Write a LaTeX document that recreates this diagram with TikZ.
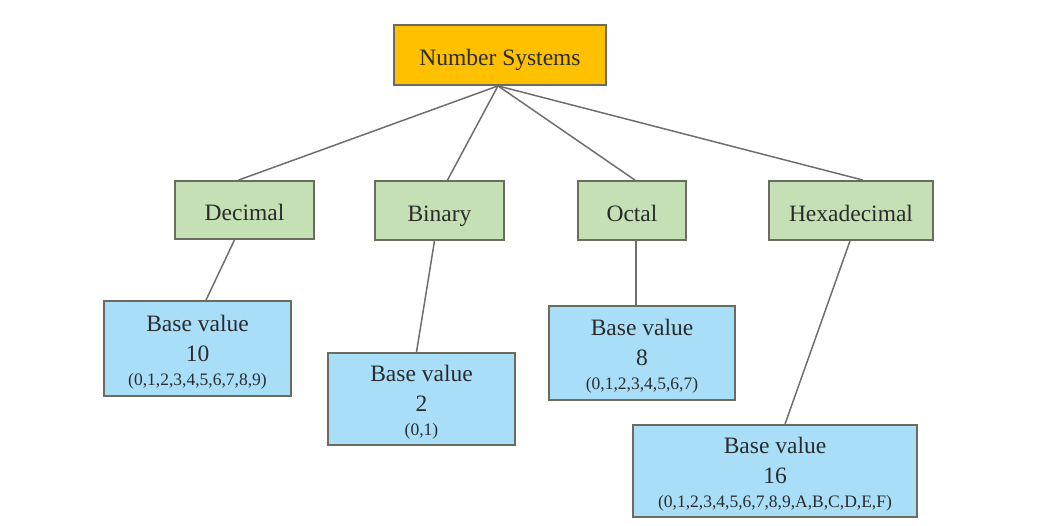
\documentclass[tikz,border=0pt]{standalone}
\usepackage{fontspec}
\setmainfont{Liberation Serif}
\definecolor{rootfill}{HTML}{FFC000}
\definecolor{greenfill}{HTML}{C5E0B4}
\definecolor{bluefill}{HTML}{A9DEF9}
\definecolor{edge}{HTML}{6B6B5E}
\definecolor{linec}{HTML}{6E6E6E}
\definecolor{txt}{HTML}{2B2B2B}
\tikzset{
  box/.style={draw=edge, line width=1.8pt, inner sep=0pt, align=center, text=txt,
    font=\fontsize{23.5}{30}\selectfont},
  onebox/.style={box, text height=23pt, text depth=2pt},
  rootbox/.style={onebox, fill=rootfill},
  catbox/.style={onebox, fill=greenfill},
  basebox/.style={box, fill=bluefill},
  conn/.style={draw=linec, line width=1.5pt},
}
\newcommand{\smalldigits}[1]{{\fontsize{17.5}{20}\selectfont #1}}
\newcommand{\topgap}{\rule{0pt}{23pt}}
\begin{document}
\begin{tikzpicture}[x=1pt,y=-1pt]
\useasboundingbox (0,0) rectangle (1038,525);
\node[rootbox, minimum width=212pt, minimum height=60pt] (root) at (500,55) {Number Systems};
\node[catbox, minimum width=139pt, minimum height=58pt] (dec) at (244.5,210) {Decimal};
\node[catbox, minimum width=129pt, minimum height=59pt] (bin) at (439.5,210.5) {Binary};
\node[catbox, minimum width=108pt, minimum height=59pt] (oct) at (632,210.5) {Octal};
\node[catbox, minimum width=164pt, minimum height=59pt] (hex) at (851,210.5) {Hexadecimal};
\node[basebox, minimum width=187pt, minimum height=95pt] (decb) at (197.5,348.5)
  {\topgap Base value\\10\\[-6pt]\smalldigits{(0,1,2,3,4,5,6,7,8,9)}};
\node[basebox, minimum width=187pt, minimum height=92pt] (binb) at (421.5,399)
  {\topgap Base value\\2\\[-6pt]\smalldigits{(0,1)}};
\node[basebox, minimum width=186pt, minimum height=94pt] (octb) at (642,353)
  {\topgap Base value\\8\\[-6pt]\smalldigits{(0,1,2,3,4,5,6,7)}};
\node[basebox, minimum width=284pt, minimum height=92pt] (hexb) at (775,471)
  {\topgap Base value\\16\\[-6pt]\smalldigits{(0,1,2,3,4,5,6,7,8,9,A,B,C,D,E,F)}};
\coordinate (hub) at ([xshift=-2pt]root.south);
\draw[conn] (hub) -- ([xshift=-6pt]dec.north);
\draw[conn] (hub) -- ([xshift=8pt]bin.north);
\draw[conn] (hub) -- ([xshift=3pt]oct.north);
\draw[conn] (hub) -- ([xshift=12pt]hex.north);
\draw[conn] ([xshift=-10pt]dec.south) -- ([xshift=8.5pt]decb.north);
\draw[conn] ([xshift=-5pt]bin.south) -- ([xshift=-5pt]binb.north);
\draw[conn] ([xshift=4pt]oct.south) -- ([xshift=-6pt]octb.north);
\draw[conn] ([xshift=-1pt]hex.south) -- ([xshift=10pt]hexb.north);
\end{tikzpicture}
\end{document}
